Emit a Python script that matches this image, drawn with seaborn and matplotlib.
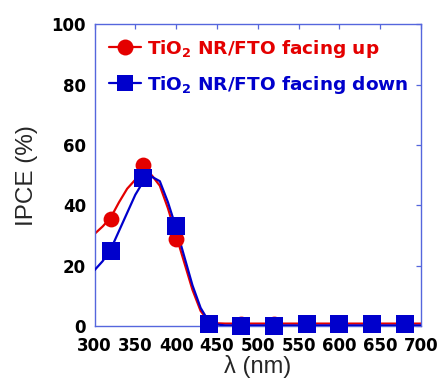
import matplotlib
matplotlib.use("Agg")
import matplotlib.pyplot as plt
from matplotlib.lines import Line2D
import seaborn as sns
import pandas as pd

# measured markers
wl_pts = [320, 360, 400, 440, 480, 520, 560, 600, 640, 680]
ipce_up = [35.3, 53.2, 28.8, 1.0, 0.5, 0.5, 0.5, 1.0, 1.0, 1.0]
ipce_down = [25.0, 49.2, 33.2, 0.5, 0.0, 0.0, 0.5, 0.5, 0.5, 0.5]

# smooth fitted curves
wl_fit = [300, 310, 320, 330, 340, 350, 360, 365, 370, 380, 390, 400, 410, 420,
          430, 440, 450, 460, 500, 550, 600, 650, 700]
fit_up = [30.5, 33.0, 36.0, 41.0, 45.5, 48.5, 50.0, 50.3, 50.0, 46.5, 39.0, 30.0,
          21.0, 12.0, 5.0, 1.5, 0.9, 0.8, 0.8, 0.8, 0.8, 0.8, 0.8]
fit_down = [18.5, 21.5, 25.5, 31.5, 37.5, 43.5, 48.0, 49.0, 49.5, 48.0, 41.0, 32.5,
            23.0, 13.5, 6.0, 1.5, 0.5, 0.2, 0.2, 0.2, 0.2, 0.2, 0.2]

labels = [r"TiO$_\mathbf{2}$ NR/FTO facing up", r"TiO$_\mathbf{2}$ NR/FTO facing down"]
xticks = [300, 350, 400, 450, 500, 550, 600, 650, 700]
yticks = [0, 20, 40, 60, 80, 100]

RED = "#E40000"
BLUE = "#0000CC"
FRAME = "#5566DD"

sns.set_theme(style="white")
plt.rcParams["font.family"] = ["DejaVu Sans"]

fig = plt.figure(figsize=(4.41, 3.8), dpi=100)
ax = fig.add_axes([0.2143, 0.1421, 0.7404, 0.794])

df_fit = pd.DataFrame({"wl": wl_fit, "up": fit_up, "down": fit_down})
df_pts = pd.DataFrame({"wl": wl_pts, "up": ipce_up, "down": ipce_down})

sns.lineplot(data=df_fit, x="wl", y="up", color=RED, lw=1.6, ax=ax, zorder=2)
sns.lineplot(data=df_fit, x="wl", y="down", color=BLUE, lw=1.6, ax=ax, zorder=3)
sns.scatterplot(data=df_pts, x="wl", y="up", color=RED, marker="o", s=130,
                edgecolor=RED, linewidth=0, ax=ax, zorder=4, clip_on=False)
sns.scatterplot(data=df_pts, x="wl", y="down", color=BLUE, marker="s", s=150,
                edgecolor=BLUE, linewidth=0, ax=ax, zorder=5, clip_on=False)

ax.set_xlim(300, 700)
ax.set_ylim(0, 100)
ax.set_xticks(xticks)
ax.set_yticks(yticks)
ax.set_xticklabels([str(t) for t in xticks], fontweight="bold", fontsize=12)
ax.set_yticklabels([str(t) for t in yticks], fontweight="bold", fontsize=12)

for s in ax.spines.values():
    s.set_visible(True)
    s.set_color(FRAME)
    s.set_linewidth(1.0)

ax.tick_params(axis="both", which="major", direction="in", length=3.6, width=0.9,
               color=FRAME, labelcolor="black", top=True, right=True,
               labeltop=False, labelright=False)
ax.tick_params(axis="y", pad=6)
ax.tick_params(axis="x", pad=8)

ax.set_xlabel("λ (nm)", fontsize=17, family="Liberation Sans", labelpad=0)
ax.set_ylabel("IPCE (%)", fontsize=17.5, family="Liberation Sans", labelpad=10)

handles = [
    Line2D([], [], color=RED, lw=1.6, marker="o", markersize=11.5, markeredgewidth=0),
    Line2D([], [], color=BLUE, lw=1.6, marker="s", markersize=12, markeredgewidth=0),
]
leg = ax.legend(handles, labels, loc="upper left", bbox_to_anchor=(0.044, 0.955),
                frameon=False, borderpad=0, borderaxespad=0, handlelength=1.75,
                handletextpad=0.3, labelspacing=0.75,
                prop={"weight": "bold", "size": 13.3})
for t, c in zip(leg.get_texts(), [RED, BLUE]):
    t.set_color(c)

fig.savefig("out.png", dpi=100)
